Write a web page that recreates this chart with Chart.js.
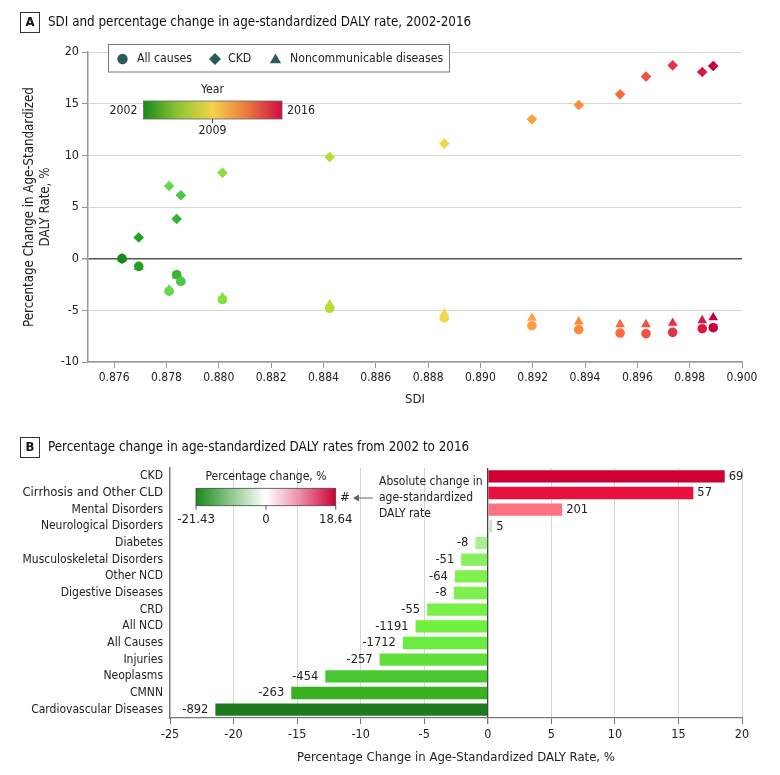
<!DOCTYPE html>
<html><head><meta charset="utf-8">
<script src="https://cdn.jsdelivr.net/npm/chart.js@4"></script>
<style>
html,body{margin:0;padding:0;background:#fff;}
#wrap{position:relative;width:780px;height:775px;overflow:hidden;}
canvas{position:absolute;left:0;}
#cA{top:0;width:780px;height:420px;}
#cB{top:420px;width:780px;height:355px;}
</style></head><body>
<div id="wrap"><canvas id="cA" width="780" height="420"></canvas><canvas id="cB" width="780" height="355"></canvas></div>
<script>
// ---------- DATA (Panel A) ----------
const years = [2002,2003,2004,2005,2006,2007,2008,2009,2010,2011,2012,2013,2014,2015,2016];
const sdi = [0.87630,0.87694,0.87839,0.87855,0.87810,0.88014,0.88424,0.88862,0.89197,0.89376,0.89534,0.89633,0.89735,0.89848,0.89890];
const allCauses = [0,-0.75,-1.55,-2.2,-3.15,-3.95,-4.8,-5.74,-6.49,-6.87,-7.2,-7.26,-7.13,-6.78,-6.68];
const ckd = [0,2.05,3.85,6.13,7.03,8.32,9.84,11.13,13.48,14.87,15.9,17.62,18.71,18.06,18.64];
const ncd = [0,-0.8,-1.65,-2.1,-3.0,-3.75,-4.45,-5.3,-5.74,-6.1,-6.36,-6.36,-6.23,-5.97,-5.7];
const sdiTicks = [0.876,0.878,0.880,0.882,0.884,0.886,0.888,0.890,0.892,0.894,0.896,0.898,0.900];

// ---------- DATA (Panel B) ----------
const causes = ['CKD','Cirrhosis and Other CLD','Mental Disorders','Neurological Disorders','Diabetes','Musculoskeletal Disorders','Other NCD','Digestive Diseases','CRD','All NCD','All Causes','Injuries','Neoplasms','CMNN','Cardiovascular Diseases'];
const pctChange = [18.64,16.17,5.85,0.35,-0.97,-2.09,-2.59,-2.67,-4.77,-5.68,-6.68,-8.51,-12.78,-15.46,-21.43];
const absChange = [69,57,201,5,-8,-51,-64,-8,-55,-1191,-1712,-257,-454,-263,-892];

// ---------- STYLE ----------
const FONT = "'Liberation Sans Narrow','DejaVu Sans Condensed','Roboto Condensed',Roboto,sans-serif";
const TXT = '#222';
const yearColors = ['#1a8a1a','#24a024','#35b535','#45c845','#62d94a','#84e03c','#b8dc30','#f2d848','#fea040','#fb8a3a','#f86a3a','#f25040','#e63248','#d81a42','#c4003c'];
const barColors = ['#cc0033','#e8103c','#ff7080','#d8e0cc','#a8f090','#88f060','#80f050','#80f050','#78f048','#70f040','#68ec40','#60e038','#48c830','#38b020','#1e7a1e'];
const markerColor = '#2b5c5c';

Chart.defaults.font.family = FONT;
Chart.defaults.color = TXT;

function titleBox(ctx, letter, y, text){
  ctx.save();
  ctx.strokeStyle = '#333'; ctx.lineWidth = 1;
  ctx.strokeRect(20.5, y - 10, 19, 20);
  ctx.fillStyle = '#111';
  ctx.font = `bold 13px ${FONT}`;
  ctx.textAlign = 'center'; ctx.textBaseline = 'middle';
  ctx.fillText(letter, 30, y + 0.5);
  ctx.font = `13.3px ${FONT}`;
  ctx.textAlign = 'left';
  ctx.fillText(text, 48, y);
  ctx.restore();
}

const panelAPlugin = {
  id: 'panelA',
  afterDraw(chart){
    const ctx = chart.ctx;
    titleBox(ctx, 'A', 22.5, 'SDI and percentage change in age-standardized DALY rate, 2002-2016');
    ctx.save();
    // legend
    ctx.fillStyle = '#fff';
    ctx.fillRect(108.5, 44.5, 341, 27.5);
    ctx.strokeStyle = '#777'; ctx.lineWidth = 1;
    ctx.strokeRect(108.5, 44.5, 341, 27.5);
    const items = [
      {style:'circle', r:5.2, x:122.5, tx:137, label:'All causes'},
      {style:'rectRot', r:6, x:215, tx:228, label:'CKD'},
      {style:'triangle', r:6.5, x:275.5, tx:290, label:'Noncommunicable diseases'}
    ];
    ctx.font = `12.2px ${FONT}`; ctx.textBaseline = 'middle'; ctx.textAlign = 'left';
    items.forEach(it => {
      ctx.fillStyle = markerColor;
      Chart.helpers.drawPoint(ctx, {pointStyle: it.style, radius: it.r, rotation: 0, borderWidth: 0}, it.x, it.style==='triangle'?60:59);
      ctx.fillStyle = TXT;
      ctx.fillText(it.label, it.tx, 59);
    });
    // colour bar
    const x0 = 143.5, x1 = 282, y0 = 101, y1 = 119;
    const g = ctx.createLinearGradient(x0, 0, x1, 0);
    g.addColorStop(0, '#1a8a1a');
    g.addColorStop(0.25, '#8cc632');
    g.addColorStop(0.5, '#f5d24a');
    g.addColorStop(0.75, '#e8783c');
    g.addColorStop(1, '#cf0e44');
    ctx.fillStyle = g;
    ctx.fillRect(x0, y0, x1 - x0, y1 - y0);
    ctx.strokeStyle = '#666'; ctx.lineWidth = 0.8;
    ctx.strokeRect(x0, y0, x1 - x0, y1 - y0);
    ctx.beginPath(); ctx.moveTo(212.5, y1); ctx.lineTo(212.5, y1 + 4); ctx.strokeStyle = '#333'; ctx.stroke();
    ctx.fillStyle = TXT; ctx.font = `12.2px ${FONT}`;
    ctx.textAlign = 'center'; ctx.fillText('Year', 212.5, 90);
    ctx.fillText('2009', 212.5, 131);
    ctx.textAlign = 'right'; ctx.fillText('2002', 137.5, 111);
    ctx.textAlign = 'left'; ctx.fillText('2016', 287, 111);
    ctx.restore();
  }
};

new Chart(document.getElementById('cA'), {
  type: 'scatter',
  data: {
    datasets: [
      {label:'All causes', data: sdi.map((x,i)=>({x, y: allCauses[i]})), pointStyle:'circle', pointRadius:4.8, backgroundColor: yearColors, borderColor: yearColors, borderWidth:0, order:1},
      {label:'CKD', data: sdi.map((x,i)=>({x, y: ckd[i]})), pointStyle:'rectRot', pointRadius:5.3, backgroundColor: yearColors, borderColor: yearColors, borderWidth:0, order:0},
      {label:'Noncommunicable diseases', data: sdi.map((x,i)=>({x, y: ncd[i]})), pointStyle:'triangle', pointRadius:5.6, backgroundColor: yearColors, borderColor: yearColors, borderWidth:0, order:2}
    ]
  },
  options: {
    responsive:false, animation:false, events:[],
    layout:{padding:{left:22, top:52, right:38, bottom:0}},
    plugins:{legend:{display:false}, tooltip:{enabled:false}},
    scales:{
      x:{
        type:'linear', min:0.875, max:0.9,
        afterBuildTicks: s => { s.ticks = sdiTicks.map(v => ({value:v})); },
        ticks:{callback: v => Number(v).toFixed(3), font:{size:12}, color:TXT, padding:3, maxRotation:0, autoSkip:false},
        grid:{drawOnChartArea:false, tickLength:6, color:'#999'},
        border:{color:'#999', width:1.5},
        title:{display:true, text:'SDI', font:{size:13}, color:TXT, padding:{top:0, bottom:13}},
        afterFit: s => { s.height = 58; }
      },
      y:{
        min:-10, max:20,
        ticks:{stepSize:5, font:{size:12.5}, color:TXT, padding:3},
        grid:{color: c => (c.tick && c.tick.value === 0) ? '#555' : '#d6d6d6', lineWidth: c => (c.tick && c.tick.value === 0) ? 1.5 : 1, tickColor:'#999', tickLength:6},
        border:{color:'#999', width:1.5},
        title:{display:true, text:['Percentage Change in Age-Standardized','DALY Rate, %'], font:{size:13.2}, color:TXT, padding:{top:0, bottom:0}},
        afterFit: s => { s.width = 66; }
      }
    }
  },
  plugins:[panelAPlugin]
});

// ---------- Panel B ----------
const panelBPlugin = {
  id: 'panelB',
  afterDatasetsDraw(chart){
    const ctx = chart.ctx;
    const meta = chart.getDatasetMeta(0);
    ctx.save();
    ctx.font = `12.8px ${FONT}`; ctx.fillStyle = TXT; ctx.textBaseline = 'middle';
    meta.data.forEach((el, i) => {
      const v = pctChange[i];
      const label = String(absChange[i]);
      if (v >= 0) { ctx.textAlign = 'left'; ctx.fillText(label, el.x + 4, el.y); }
      else { ctx.textAlign = 'right'; ctx.fillText(label, el.x - 7, el.y); }
    });
    ctx.restore();
  },
  afterDraw(chart){
    const ctx = chart.ctx;
    const off = 420;
    titleBox(ctx, 'B', 447.5 - off, 'Percentage change in age-standardized DALY rates from 2002 to 2016');
    ctx.save();
    const x0 = 196, x1 = 335.7, y0 = 488.3 - off, y1 = 505.7 - off;
    const g = ctx.createLinearGradient(x0, 0, x1, 0);
    g.addColorStop(0, '#1a8a1a');
    g.addColorStop(0.25, '#8cc88c');
    g.addColorStop(0.5, '#ffffff');
    g.addColorStop(0.75, '#ee8aa4');
    g.addColorStop(1, '#cc0033');
    ctx.fillStyle = g;
    ctx.fillRect(x0, y0, x1 - x0, y1 - y0);
    ctx.strokeStyle = '#444'; ctx.lineWidth = 0.8;
    ctx.strokeRect(x0, y0, x1 - x0, y1 - y0);
    ctx.beginPath();
    [x0, 266, x1].forEach(x => { ctx.moveTo(x, y1); ctx.lineTo(x, y1 + 4); });
    ctx.strokeStyle = '#333'; ctx.stroke();
    ctx.fillStyle = TXT; ctx.font = `12px ${FONT}`; ctx.textBaseline = 'middle'; ctx.textAlign = 'center';
    ctx.fillText('Percentage change, %', 266, 477 - off);
    ctx.font = `13px ${FONT}`;
    ctx.fillText('-21.43', x0, 520 - off);
    ctx.fillText('0', 266, 520 - off);
    ctx.fillText('18.64', x1, 520 - off);
    ctx.fillText('#', 345, 498 - off);
    // arrow
    ctx.strokeStyle = '#666'; ctx.lineWidth = 1;
    ctx.beginPath(); ctx.moveTo(373, 498 - off); ctx.lineTo(355, 498 - off); ctx.stroke();
    ctx.fillStyle = '#666';
    ctx.beginPath(); ctx.moveTo(353, 498 - off); ctx.lineTo(359, 494.5 - off); ctx.lineTo(359, 501.5 - off); ctx.closePath(); ctx.fill();
    ctx.fillStyle = TXT; ctx.textAlign = 'left'; ctx.font = `12px ${FONT}`;
    ctx.fillText('Absolute change in', 379, 482 - off);
    ctx.fillText('age-standardized', 379, 498 - off);
    ctx.fillText('DALY rate', 379, 514 - off);
    ctx.restore();
  }
};

new Chart(document.getElementById('cB'), {
  type:'bar',
  data:{labels: causes, datasets:[{data: pctChange, backgroundColor: barColors, borderWidth:0, barPercentage:0.92, categoryPercentage:0.8}]},
  options:{
    indexAxis:'y', responsive:false, animation:false, events:[],
    layout:{padding:{left:0, top:48, right:38, bottom:0}},
    plugins:{legend:{display:false}, tooltip:{enabled:false}},
    scales:{
      x:{
        min:-25, max:20,
        ticks:{stepSize:5, font:{size:12.5}, color:TXT, padding:3},
        grid:{color: c => (c.tick && c.tick.value === 0) ? '#444' : '#d6d6d6', lineWidth: c => (c.tick && c.tick.value === 0) ? 1.3 : 1, tickColor:'#777', tickLength:6},
        border:{color:'#777', width:1.3},
        title:{display:true, text:'Percentage Change in Age-Standardized DALY Rate, %', font:{size:13}, color:TXT, padding:{top:0, bottom:10}},
        afterFit: s => { s.height = 57; }
      },
      y:{
        ticks:{font: c => ({size: c.index === 1 ? 13 : 12}), color:TXT, padding:7, autoSkip:false},
        grid:{drawOnChartArea:false, drawTicks:false},
        border:{color:'#777', width:1.3},
        afterFit: s => { s.width = 170; }
      }
    }
  },
  plugins:[panelBPlugin]
});
</script>
</body></html>
